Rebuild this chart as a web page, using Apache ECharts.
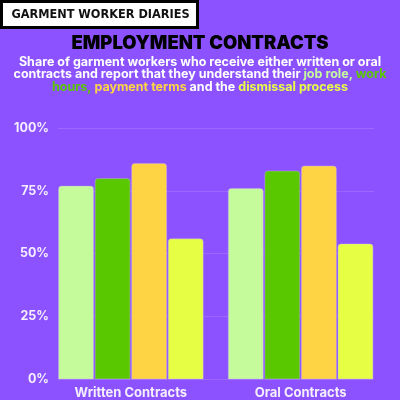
<!DOCTYPE html>
<html><head><meta charset="utf-8">
<script src="https://cdn.jsdelivr.net/npm/echarts@6/dist/echarts.min.js"></script>
<style>html,body{margin:0;padding:0;background:#8c52ff;}#c{width:400px;height:400px;}</style>
</head><body><div id="c"></div>
<script>
const categories = ['Written Contracts', 'Oral Contracts'];
const seriesNames = ['job role', 'work hours', 'payment terms', 'dismissal process'];
const jobRole = [77, 76];
const workHours = [80, 83];
const paymentTerms = [86, 85];
const dismissalProcess = [56, 54];
const yTicks = [0, 25, 50, 75, 100];
const colors = ['#c6fb9c', '#5ac800', '#ffd444', '#e6ff44'];
const values = [jobRole, workHours, paymentTerms, dismissalProcess];

const chart = echarts.init(document.getElementById('c'), null, {renderer: 'canvas'});
const FONT = 'Inter';
const sub = {fontFamily: FONT, fontWeight: 700, fontSize: 12.5, lineHeight: 12.8};
chart.setOption({
  backgroundColor: '#8c52ff',
  animation: false,
  graphic: [
    {type: 'rect', shape: {x: 0, y: 0, width: 199, height: 29}, style: {fill: '#000'}},
    {type: 'rect', shape: {x: 3, y: 3, width: 193, height: 23}, style: {fill: '#fff'}},
    {type: 'text', x: 100.5, y: 15, style: {text: 'GARMENT WORKER DIARIES', fill: '#111', align: 'center', verticalAlign: 'middle',
      fontFamily: 'DejaVu Sans Condensed', fontWeight: 'bold', fontSize: 12.6}},
    {type: 'text', x: 200, y: 43.5, style: {text: 'EMPLOYMENT CONTRACTS', fill: '#000', align: 'center', verticalAlign: 'middle',
      fontFamily: FONT, fontWeight: 900, fontSize: 18.4}},
    {type: 'text', x: 200, y: 55.5, style: {
      text: 'Share of garment workers who receive either written or oral\ncontracts and report that they understand their {a|job role,} {b|work}\n{b|hours,} {c|payment terms} and the {d|dismissal process}',
      fill: '#fff', align: 'center', verticalAlign: 'top',
      fontFamily: FONT, fontWeight: 700, fontSize: 12.5, lineHeight: 12.8,
      rich: {
        a: Object.assign({fill: colors[0]}, sub),
        b: Object.assign({fill: colors[1]}, sub),
        c: Object.assign({fill: colors[2]}, sub),
        d: Object.assign({fill: colors[3]}, sub)
      }}}
  ],
  grid: [
    {left: 46, right: 14.5, top: 128, bottom: 20.7},
    {left: 58, right: 26, top: 128, bottom: 20.7}
  ],
  xAxis: [
    {type: 'category', gridIndex: 0, data: categories,
     axisLine: {show: false}, axisTick: {show: false},
     axisLabel: {color: '#f4eeff', fontFamily: FONT, fontWeight: 700, fontSize: 13, margin: 7}},
    {type: 'value', gridIndex: 1, show: false, min: 0, max: 1}
  ],
  yAxis: [
    {type: 'value', gridIndex: 0, min: 0, max: 100, interval: 25, show: false},
    {type: 'value', gridIndex: 1, min: 0, max: 100, interval: 25,
     axisLine: {show: false}, axisTick: {show: false},
     splitLine: {lineStyle: {color: '#9a68ff', width: 1}},
     axisLabel: {color: '#f4eeff', fontFamily: FONT, fontWeight: 700, fontSize: 12.5, margin: 9,
       formatter: v => yTicks.includes(v) ? v + '%' : ''}}
  ],
  series: seriesNames.map((n, i) => ({
    name: n, type: 'bar', xAxisIndex: 0, yAxisIndex: 0,
    data: values[i], barWidth: 35.5, barGap: '3%',
    itemStyle: {color: colors[i], borderColor: 'rgba(200,170,255,0.7)', borderWidth: 0.6, borderRadius: [3, 3, 0, 0]}
  }))
});
</script></body></html>
